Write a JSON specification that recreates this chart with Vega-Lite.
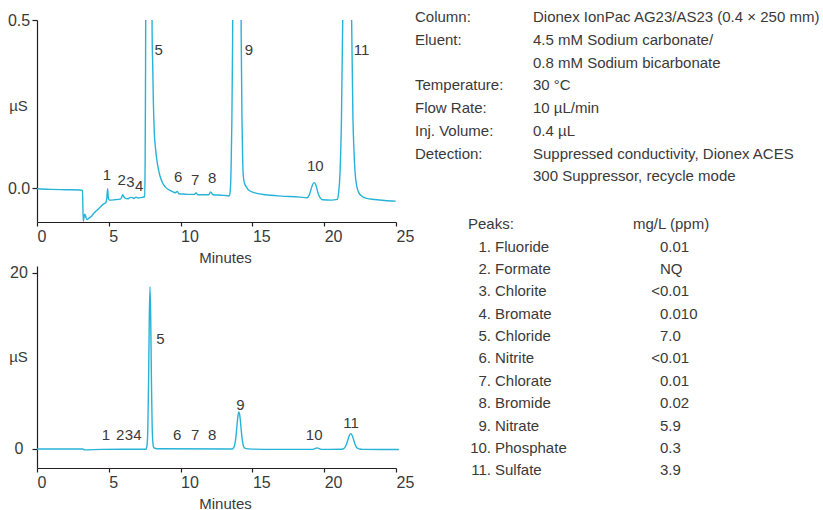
{
  "$schema": "https://vega.github.io/schema/vega-lite/v6.json",
  "background": "white",
  "padding": {"left": 7, "top": 10, "right": 0, "bottom": 0},
  "bounds": "flush",
  "columns": 2,
  "spacing": {"row": 44, "column": 19},
  "config": {
    "font": "Liberation Sans, Arial, sans-serif",
    "view": {"stroke": null},
    "axis": {
      "grid": false,
      "domainColor": "#231f20",
      "tickColor": "#231f20",
      "domainWidth": 1.2,
      "tickWidth": 1.2,
      "labelColor": "#3a3a3a",
      "titleColor": "#3a3a3a",
      "labelFontSize": 16,
      "titleFontSize": 15,
      "titleFontWeight": "normal",
      "labelOverlap": false,
      "labelBound": false
    },
    "axisX": {
      "labelAlign": "left",
      "labelDx": -1.5,
      "labelFlush": false,
      "labelBaseline": "alphabetic",
      "labelPadding": 15.5,
      "tickSize": 4,
      "titleX": 188,
      "titleY": 40,
      "titleAlign": "center",
      "titleBaseline": "alphabetic"
    },
    "axisY": {
      "labelAlign": "center",
      "labelPadding": 13.5,
      "tickSize": 5,
      "titleAngle": 0,
      "titleX": -19,
      "titleAlign": "center",
      "titleBaseline": "middle"
    },
    "text": {"fontSize": 15, "color": "#3a3a3a", "baseline": "middle"}
  },
  "datasets": {
    "zoomed": [
      {"time": 0, "signal": -0.001}, {"time": 1.0, "signal": -0.003}, {"time": 2.0, "signal": -0.004},
      {"time": 3.0, "signal": -0.005}, {"time": 3.17, "signal": -0.006}, {"time": 3.22, "signal": -0.098},
      {"time": 3.3, "signal": -0.08}, {"time": 3.34, "signal": -0.077}, {"time": 3.42, "signal": -0.088},
      {"time": 3.5, "signal": -0.093}, {"time": 3.6, "signal": -0.089}, {"time": 3.81, "signal": -0.082},
      {"time": 4.0, "signal": -0.072}, {"time": 4.16, "signal": -0.066}, {"time": 4.39, "signal": -0.056},
      {"time": 4.62, "signal": -0.047}, {"time": 4.8, "signal": -0.042}, {"time": 4.86, "signal": -0.03},
      {"time": 4.92, "signal": -0.001}, {"time": 4.97, "signal": -0.028}, {"time": 5.03, "signal": -0.035},
      {"time": 5.4, "signal": -0.034}, {"time": 5.8, "signal": -0.032}, {"time": 5.9, "signal": -0.026},
      {"time": 5.97, "signal": -0.019}, {"time": 6.05, "signal": -0.025}, {"time": 6.13, "signal": -0.029},
      {"time": 6.35, "signal": -0.031}, {"time": 6.5, "signal": -0.027}, {"time": 6.6, "signal": -0.027},
      {"time": 6.75, "signal": -0.03}, {"time": 6.9, "signal": -0.026}, {"time": 7.05, "signal": -0.029},
      {"time": 7.3, "signal": -0.027}, {"time": 7.5, "signal": -0.025}, {"time": 7.53, "signal": 0.08},
      {"time": 7.555, "signal": 0.3}, {"time": 7.58, "signal": 0.67}, {"time": 7.63, "signal": 2.88},
      {"time": 7.68, "signal": 8.07}, {"time": 7.73, "signal": 14.96}, {"time": 7.78, "signal": 18.4},
      {"time": 7.83, "signal": 14.98}, {"time": 7.88, "signal": 8.1}, {"time": 7.93, "signal": 2.95},
      {"time": 7.98, "signal": 0.75}, {"time": 8.02, "signal": 0.45}, {"time": 8.06, "signal": 0.363},
      {"time": 8.1, "signal": 0.264}, {"time": 8.17, "signal": 0.165}, {"time": 8.25, "signal": 0.12},
      {"time": 8.34, "signal": 0.086}, {"time": 8.45, "signal": 0.058}, {"time": 8.57, "signal": 0.036},
      {"time": 8.75, "signal": 0.016}, {"time": 8.91, "signal": 0.005}, {"time": 9.1, "signal": -0.002},
      {"time": 9.26, "signal": -0.006}, {"time": 9.5, "signal": -0.011}, {"time": 9.65, "signal": -0.013},
      {"time": 9.77, "signal": -0.009}, {"time": 9.88, "signal": -0.016}, {"time": 10.2, "signal": -0.017},
      {"time": 10.6, "signal": -0.018}, {"time": 10.95, "signal": -0.018}, {"time": 11.07, "signal": -0.014},
      {"time": 11.2, "signal": -0.019}, {"time": 11.6, "signal": -0.019}, {"time": 11.95, "signal": -0.019},
      {"time": 12.1, "signal": -0.011}, {"time": 12.25, "signal": -0.019}, {"time": 12.6, "signal": -0.02},
      {"time": 13.0, "signal": -0.021}, {"time": 13.4, "signal": -0.022}, {"time": 13.47, "signal": 0.0},
      {"time": 13.52, "signal": 0.07}, {"time": 13.57, "signal": 0.2}, {"time": 13.62, "signal": 0.43},
      {"time": 13.67, "signal": 0.85}, {"time": 13.72, "signal": 1.51}, {"time": 13.77, "signal": 2.37},
      {"time": 13.82, "signal": 3.25}, {"time": 13.87, "signal": 3.94}, {"time": 13.92, "signal": 4.2},
      {"time": 13.97, "signal": 3.94}, {"time": 14.02, "signal": 3.25}, {"time": 14.07, "signal": 2.37},
      {"time": 14.12, "signal": 1.51}, {"time": 14.17, "signal": 0.85}, {"time": 14.22, "signal": 0.45},
      {"time": 14.27, "signal": 0.22}, {"time": 14.32, "signal": 0.09}, {"time": 14.37, "signal": 0.035},
      {"time": 14.45, "signal": 0.015}, {"time": 14.6, "signal": 0.003}, {"time": 14.75, "signal": -0.006},
      {"time": 15.0, "signal": -0.011}, {"time": 15.3, "signal": -0.015}, {"time": 15.9, "signal": -0.019},
      {"time": 17.0, "signal": -0.023}, {"time": 18.3, "signal": -0.026}, {"time": 18.8, "signal": -0.028},
      {"time": 18.95, "signal": -0.021}, {"time": 19.05, "signal": -0.008}, {"time": 19.15, "signal": 0.006},
      {"time": 19.3, "signal": 0.017}, {"time": 19.42, "signal": 0.01}, {"time": 19.52, "signal": -0.006},
      {"time": 19.62, "signal": -0.02}, {"time": 19.75, "signal": -0.03}, {"time": 19.9, "signal": -0.034},
      {"time": 20.5, "signal": -0.035}, {"time": 20.9, "signal": -0.033}, {"time": 21.0, "signal": -0.014},
      {"time": 21.1, "signal": 0.044}, {"time": 21.2, "signal": 0.202}, {"time": 21.3, "signal": 0.532},
      {"time": 21.4, "signal": 1.02}, {"time": 21.5, "signal": 1.5}, {"time": 21.6, "signal": 1.74},
      {"time": 21.7, "signal": 1.5}, {"time": 21.8, "signal": 1.02}, {"time": 21.9, "signal": 0.53},
      {"time": 22.0, "signal": 0.21}, {"time": 22.07, "signal": 0.116}, {"time": 22.15, "signal": 0.048},
      {"time": 22.26, "signal": 0.008}, {"time": 22.4, "signal": -0.012}, {"time": 22.61, "signal": -0.023},
      {"time": 22.96, "signal": -0.03}, {"time": 23.5, "signal": -0.033}, {"time": 24.2, "signal": -0.036},
      {"time": 24.98, "signal": -0.038}
    ],
    "full": [
      {"time": 0, "signal": 0}, {"time": 3.2, "signal": 0}, {"time": 3.3, "signal": -0.1},
      {"time": 4.5, "signal": -0.05}, {"time": 7.6, "signal": -0.03}, {"time": 7.62, "signal": 0.07},
      {"time": 7.67, "signal": 0.53}, {"time": 7.72, "signal": 2.49}, {"time": 7.77, "signal": 7.56},
      {"time": 7.82, "signal": 14.73}, {"time": 7.87, "signal": 18.4}, {"time": 7.92, "signal": 14.73},
      {"time": 7.97, "signal": 7.56}, {"time": 8.02, "signal": 2.6}, {"time": 8.07, "signal": 0.7},
      {"time": 8.12, "signal": 0.2}, {"time": 8.2, "signal": 0.08}, {"time": 8.5, "signal": 0.02},
      {"time": 13.6, "signal": 0.0}, {"time": 13.66, "signal": 0.07}, {"time": 13.71, "signal": 0.185},
      {"time": 13.76, "signal": 0.42}, {"time": 13.81, "signal": 0.85}, {"time": 13.86, "signal": 1.51},
      {"time": 13.91, "signal": 2.37}, {"time": 13.96, "signal": 3.25}, {"time": 14.01, "signal": 3.94},
      {"time": 14.06, "signal": 4.2}, {"time": 14.11, "signal": 3.94}, {"time": 14.16, "signal": 3.25},
      {"time": 14.21, "signal": 2.37}, {"time": 14.26, "signal": 1.51}, {"time": 14.31, "signal": 0.85},
      {"time": 14.36, "signal": 0.44}, {"time": 14.41, "signal": 0.2}, {"time": 14.5, "signal": 0.06},
      {"time": 14.7, "signal": 0.01}, {"time": 16.5, "signal": -0.05}, {"time": 19.2, "signal": -0.05},
      {"time": 19.5, "signal": 0.12}, {"time": 19.8, "signal": -0.05}, {"time": 21.25, "signal": -0.03},
      {"time": 21.35, "signal": 0.03}, {"time": 21.45, "signal": 0.19}, {"time": 21.55, "signal": 0.53},
      {"time": 21.65, "signal": 1.04}, {"time": 21.75, "signal": 1.53}, {"time": 21.85, "signal": 1.74},
      {"time": 21.95, "signal": 1.53}, {"time": 22.05, "signal": 1.04}, {"time": 22.15, "signal": 0.53},
      {"time": 22.25, "signal": 0.19}, {"time": 22.35, "signal": 0.05}, {"time": 22.45, "signal": -0.01},
      {"time": 22.7, "signal": -0.05}, {"time": 25.2, "signal": -0.06}
    ],
    "zoomedLabels": [
      {"peak": "1", "time": 4.87, "signal": 0.04}, {"peak": "2", "time": 5.9, "signal": 0.025},
      {"peak": "3", "time": 6.51, "signal": 0.018}, {"peak": "4", "time": 7.11, "signal": 0.008},
      {"peak": "5", "time": 8.48, "signal": 0.41}, {"peak": "6", "time": 9.83, "signal": 0.033},
      {"peak": "7", "time": 11.01, "signal": 0.026}, {"peak": "8", "time": 12.19, "signal": 0.03},
      {"peak": "9", "time": 14.75, "signal": 0.41}, {"peak": "10", "time": 19.38, "signal": 0.065},
      {"peak": "11", "time": 22.6, "signal": 0.41}
    ],
    "fullLabels": [
      {"peak": "1", "time": 4.8, "signal": 1.63}, {"peak": "2", "time": 5.79, "signal": 1.63},
      {"peak": "3", "time": 6.4, "signal": 1.63}, {"peak": "4", "time": 7.0, "signal": 1.63},
      {"peak": "5", "time": 8.59, "signal": 12.48}, {"peak": "6", "time": 9.76, "signal": 1.63},
      {"peak": "7", "time": 11.02, "signal": 1.63}, {"peak": "8", "time": 12.2, "signal": 1.63},
      {"peak": "9", "time": 14.16, "signal": 5.03}, {"peak": "10", "time": 19.3, "signal": 1.63},
      {"peak": "11", "time": 21.87, "signal": 2.95}
    ],
    "conditions": [
      {"line": 0, "parameter": "Column:", "setting": "Dionex IonPac AG23/AS23 (0.4 × 250 mm)"},
      {"line": 1, "parameter": "Eluent:", "setting": "4.5 mM Sodium carbonate/"},
      {"line": 2, "parameter": "", "setting": "0.8 mM Sodium bicarbonate"},
      {"line": 3, "parameter": "Temperature:", "setting": "30 °C"},
      {"line": 4, "parameter": "Flow Rate:", "setting": "10 µL/min"},
      {"line": 5, "parameter": "Inj. Volume:", "setting": "0.4 µL"},
      {"line": 6, "parameter": "Detection:", "setting": "Suppressed conductivity, Dionex ACES"},
      {"line": 7, "parameter": "", "setting": "300 Suppressor, recycle mode"}
    ],
    "peakHeader": [
      {"row": 0, "analyteHeading": "Peaks:", "amountHeading": "mg/L (ppm)"}
    ],
    "peaks": [
      {"row": 1, "no": "1.", "analyte": "Fluoride", "qualifier": "", "amount": "0.01"},
      {"row": 2, "no": "2.", "analyte": "Formate", "qualifier": "", "amount": "NQ"},
      {"row": 3, "no": "3.", "analyte": "Chlorite", "qualifier": "<", "amount": "0.01"},
      {"row": 4, "no": "4.", "analyte": "Bromate", "qualifier": "", "amount": "0.010"},
      {"row": 5, "no": "5.", "analyte": "Chloride", "qualifier": "", "amount": "7.0"},
      {"row": 6, "no": "6.", "analyte": "Nitrite", "qualifier": "<", "amount": "0.01"},
      {"row": 7, "no": "7.", "analyte": "Chlorate", "qualifier": "", "amount": "0.01"},
      {"row": 8, "no": "8.", "analyte": "Bromide", "qualifier": "", "amount": "0.02"},
      {"row": 9, "no": "9.", "analyte": "Nitrate", "qualifier": "", "amount": "5.9"},
      {"row": 10, "no": "10.", "analyte": "Phosphate", "qualifier": "", "amount": "0.3"},
      {"row": 11, "no": "11.", "analyte": "Sulfate", "qualifier": "", "amount": "3.9"}
    ]
  },
  "concat": [
    {
      "width": 359,
      "height": 202,
      "layer": [
        {
          "data": {"name": "zoomed"},
          "mark": {"type": "line", "clip": true, "color": "#27b3d7", "strokeWidth": 1.4, "interpolate": "monotone"},
          "encoding": {
            "x": {
              "field": "time", "type": "quantitative",
              "scale": {"domain": [0, 25], "nice": false},
              "axis": {"title": "Minutes", "values": [0, 5, 10, 15, 20, 25], "format": "d"}
            },
            "y": {
              "field": "signal", "type": "quantitative",
              "scale": {"domain": [-0.1, 0.5], "nice": false, "zero": false},
              "axis": {"title": "µS", "values": [0, 0.5], "format": ".1f", "titleY": 85}
            }
          }
        },
        {
          "data": {"name": "zoomedLabels"},
          "mark": {"type": "text", "align": "center"},
          "encoding": {
            "x": {"field": "time", "type": "quantitative"},
            "y": {"field": "signal", "type": "quantitative"},
            "text": {"field": "peak"}
          }
        }
      ]
    },
    {
      "width": 408,
      "height": 202,
      "data": {"name": "conditions"},
      "encoding": {
        "y": {"field": "line", "type": "quantitative", "scale": {"domain": [0, 7], "range": [-2.7, 156.2]}, "axis": null}
      },
      "layer": [
        {
          "mark": {"type": "text", "align": "left"},
          "encoding": {
            "x": {"datum": "parameter", "type": "nominal", "scale": {"type": "point", "domain": ["parameter", "setting"], "range": [0, 118], "padding": 0}, "axis": null},
            "text": {"field": "parameter"}
          }
        },
        {
          "mark": {"type": "text", "align": "left"},
          "encoding": {
            "x": {"datum": "setting", "type": "nominal", "axis": null},
            "text": {"field": "setting"}
          }
        }
      ]
    },
    {
      "width": 359,
      "height": 202,
      "layer": [
        {
          "data": {"name": "full"},
          "mark": {"type": "line", "color": "#27b3d7", "strokeWidth": 1.4, "interpolate": "monotone"},
          "encoding": {
            "x": {
              "field": "time", "type": "quantitative",
              "scale": {"domain": [0, 25], "nice": false},
              "axis": {"title": "Minutes", "values": [0, 5, 10, 15, 20, 25], "format": "d"}
            },
            "y": {
              "field": "signal", "type": "quantitative",
              "scale": {"domain": [-2.16, 20.75], "nice": false, "zero": false},
              "axis": {"title": "µS", "values": [0, 20], "format": "d", "titleY": 90}
            }
          }
        },
        {
          "data": {"name": "fullLabels"},
          "mark": {"type": "text", "align": "center"},
          "encoding": {
            "x": {"field": "time", "type": "quantitative"},
            "y": {"field": "signal", "type": "quantitative"},
            "text": {"field": "peak"}
          }
        }
      ]
    },
    {
      "width": 408,
      "height": 202,
      "encoding": {
        "y": {"field": "row", "type": "quantitative", "scale": {"domain": [0, 11], "range": [-41.7, 204.3]}, "axis": null}
      },
      "layer": [
        {
          "data": {"name": "peakHeader"},
          "mark": {"type": "text", "align": "left", "dx": -23},
          "encoding": {
            "x": {"datum": "analyte", "type": "nominal", "scale": {"type": "point", "domain": ["analyte", "amount"], "range": [76, 245], "padding": 0}, "axis": null},
            "text": {"field": "analyteHeading"}
          }
        },
        {
          "data": {"name": "peakHeader"},
          "mark": {"type": "text", "align": "left", "dx": -27},
          "encoding": {
            "x": {"datum": "amount", "type": "nominal", "axis": null},
            "text": {"field": "amountHeading"}
          }
        },
        {
          "data": {"name": "peaks"},
          "mark": {"type": "text", "align": "right"},
          "encoding": {
            "x": {"datum": "analyte", "type": "nominal", "axis": null},
            "text": {"field": "no"}
          }
        },
        {
          "data": {"name": "peaks"},
          "mark": {"type": "text", "align": "left", "dx": 4},
          "encoding": {
            "x": {"datum": "analyte", "type": "nominal", "axis": null},
            "text": {"field": "analyte"}
          }
        },
        {
          "data": {"name": "peaks"},
          "mark": {"type": "text", "align": "right"},
          "encoding": {
            "x": {"datum": "amount", "type": "nominal", "axis": null},
            "text": {"field": "qualifier"}
          }
        },
        {
          "data": {"name": "peaks"},
          "mark": {"type": "text", "align": "left"},
          "encoding": {
            "x": {"datum": "amount", "type": "nominal", "axis": null},
            "text": {"field": "amount"}
          }
        }
      ]
    }
  ]
}
